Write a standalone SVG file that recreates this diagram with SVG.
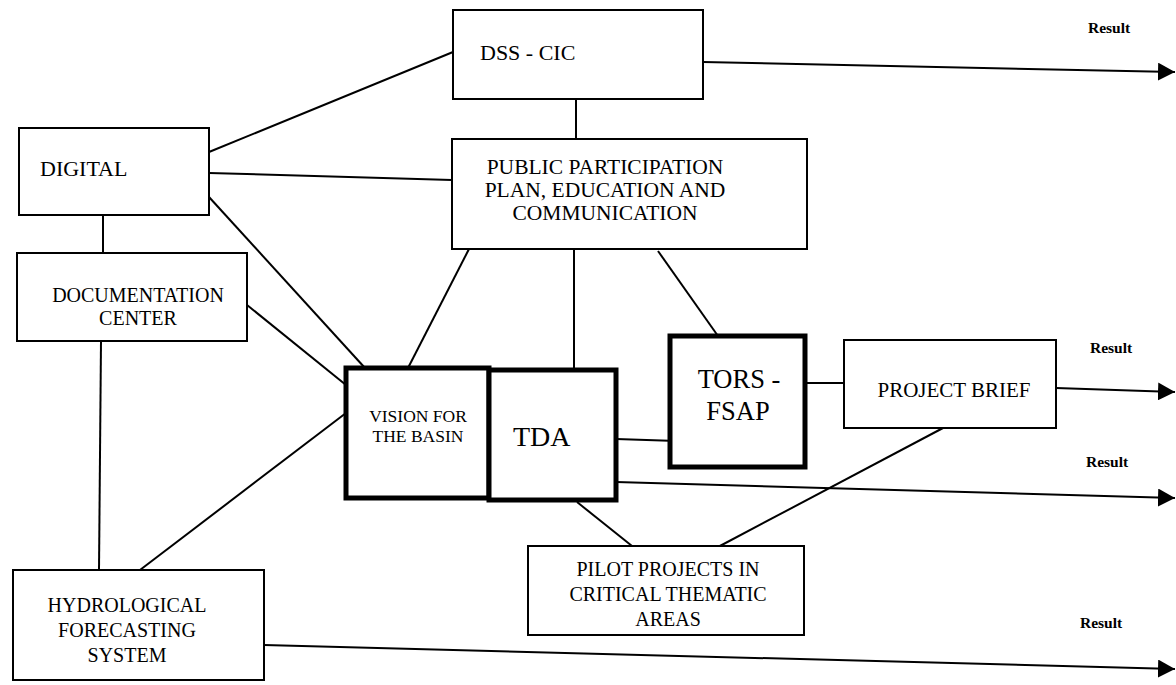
<svg xmlns="http://www.w3.org/2000/svg" width="1176" height="685" viewBox="0 0 1176 685" font-family="'Liberation Serif', 'DejaVu Serif', serif">
<defs>
<marker id="arr" markerUnits="userSpaceOnUse" markerWidth="18" markerHeight="18" refX="17" refY="9" orient="auto">
<path d="M0,0 L17,9 L0,18 z" fill="#000"/>
</marker>
</defs>
<style>
.box{fill:#fff;stroke:#000;stroke-width:2}
.thick{fill:#fff;stroke:#000;stroke-width:5}
.ln{stroke:#000;stroke-width:2;fill:none}
.ar{stroke:#000;stroke-width:2;fill:none;marker-end:url(#arr)}
text{font-family:'Liberation Serif','DejaVu Serif',serif;fill:#000}
.t{font-size:20px}
.c{text-anchor:middle}
.res{font-size:15.5px;font-weight:bold}
</style>
<rect width="1176" height="685" fill="#fff"/>
<g id="connectors">
<line class="ln" x1="576" y1="99" x2="576" y2="139"/>
<line class="ln" x1="209" y1="152" x2="453" y2="52"/>
<line class="ln" x1="209" y1="173" x2="452" y2="180"/>
<line class="ln" x1="209" y1="197" x2="365" y2="368"/>
<line class="ln" x1="103" y1="215" x2="103" y2="253"/>
<line class="ln" x1="247" y1="305" x2="346" y2="385"/>
<line class="ln" x1="101" y1="341" x2="99" y2="570"/>
<line class="ln" x1="140" y1="570" x2="346" y2="413"/>
<line class="ln" x1="469" y1="249" x2="408" y2="368"/>
<line class="ln" x1="574" y1="249" x2="574" y2="370"/>
<line class="ln" x1="658" y1="251" x2="718" y2="336"/>
<line class="ln" x1="805" y1="383" x2="844" y2="383"/>
<line class="ln" x1="616" y1="439" x2="677" y2="441"/>
<line class="ln" x1="943" y1="428" x2="718" y2="547"/>
<line class="ln" x1="577" y1="502" x2="632" y2="546"/>
<line class="ar" x1="703" y1="62" x2="1175" y2="72"/>
<line class="ar" x1="1056" y1="388" x2="1175" y2="392"/>
<line class="ar" x1="616" y1="482" x2="1175" y2="498"/>
<line class="ar" x1="264" y1="645" x2="1175" y2="669"/>
</g>
<g id="dss">
<rect class="box" x="453" y="10" width="250" height="89"/>
<text x="480" y="60" font-size="22">DSS - CIC</text>
</g>
<g id="public">
<rect class="box" x="452" y="139" width="355" height="110"/>
<text class="c" x="605" y="174" font-size="21.5">PUBLIC PARTICIPATION</text>
<text class="c" x="605" y="197" font-size="21.5">PLAN, EDUCATION AND</text>
<text class="c" x="605" y="220" font-size="21.5">COMMUNICATION</text>
</g>
<g id="digital">
<rect class="box" x="19" y="128" width="190" height="87"/>
<text x="40" y="176" font-size="22">DIGITAL</text>
</g>
<g id="documentation">
<rect class="box" x="17" y="253" width="230" height="88"/>
<text class="t c" x="138" y="302">DOCUMENTATION</text>
<text class="t c" x="138" y="325">CENTER</text>
</g>
<g id="hydro">
<rect class="box" x="13" y="570" width="251" height="110"/>
<text class="t c" x="127" y="612">HYDROLOGICAL</text>
<text class="t c" x="127" y="637">FORECASTING</text>
<text class="t c" x="127" y="662">SYSTEM</text>
</g>
<g id="vision">
<rect class="thick" x="346" y="368" width="143" height="130"/>
<text class="c" x="418" y="422" font-size="17.5">VISION FOR</text>
<text class="c" x="418" y="442" font-size="17.5">THE BASIN</text>
</g>
<g id="tda">
<rect class="thick" x="489" y="370" width="127" height="130"/>
<text x="513" y="446" font-size="28">TDA</text>
</g>
<g id="tors">
<rect class="thick" x="670" y="336" width="135" height="131"/>
<text class="c" x="739" y="388" font-size="26.5">TORS -</text>
<text class="c" x="738" y="420" font-size="26.5">FSAP</text>
</g>
<g id="brief">
<rect class="box" x="844" y="340" width="212" height="88"/>
<text class="c" x="954" y="397" font-size="21">PROJECT BRIEF</text>
</g>
<g id="pilot">
<rect class="box" x="528" y="546" width="276" height="89"/>
<text class="t c" x="668" y="576">PILOT PROJECTS IN</text>
<text class="t c" x="668" y="601">CRITICAL THEMATIC</text>
<text class="t c" x="668" y="626">AREAS</text>
</g>
<g id="results">
<text class="res" x="1088" y="33">Result</text>
<text class="res" x="1090" y="353">Result</text>
<text class="res" x="1086" y="467">Result</text>
<text class="res" x="1080" y="628">Result</text>
</g>
</svg>
